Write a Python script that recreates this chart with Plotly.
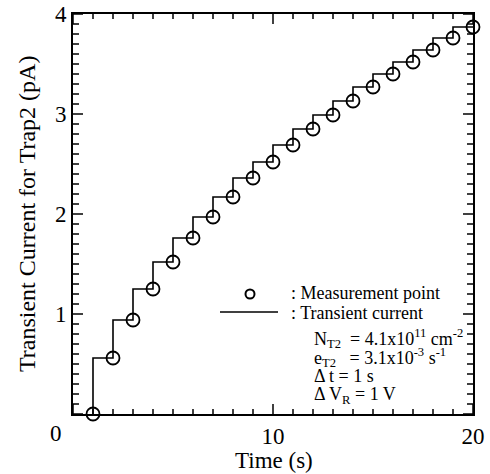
import plotly.graph_objects as go

# Data
time_s = list(range(1, 21))
current_pA = [0.0, 0.56, 0.94, 1.25, 1.52, 1.76, 1.97, 2.17, 2.36, 2.52,
              2.69, 2.85, 2.99, 3.13, 3.27, 3.40, 3.52, 3.64, 3.76, 3.87]

x_tickvals = [0, 10, 20]
x_ticktext = ["", "10", "20"]
y_tickvals = [0, 1, 2, 3, 4]
y_ticktext = ["", "1", "2", "3", "4"]
x_minor_step = 1
y_minor_step = 0.1

FONT = "Liberation Serif"
W, H = 490, 474
L, R, T, B = 73, 17, 14, 60
PW, PH = W - L - R, H - T - B
X_RANGE = [0, 20]
Y_RANGE = [0, 4]

def px(x):
    return (x - L) / PW

def py(y):
    return (H - B - y) / PH

fig = go.Figure()
fig.add_trace(go.Scatter(
    x=time_s, y=current_pA, mode="lines", line_shape="vh",
    line=dict(color="black", width=1.6)))
fig.add_trace(go.Scatter(
    x=time_s, y=current_pA, mode="markers", cliponaxis=False,
    marker=dict(symbol="circle-open", size=13, color="black", line=dict(width=1.8))))

common = dict(showline=True, linecolor="black", linewidth=2, mirror=True,
              ticks="", showgrid=False, zeroline=False, automargin=False,
              tickfont=dict(size=23))
fig.update_xaxes(range=X_RANGE, tickvals=x_tickvals, ticktext=x_ticktext, **common)
fig.update_yaxes(range=Y_RANGE, tickvals=y_tickvals, ticktext=y_ticktext, **common)

# inside tick marks on all four sides (axis decoration)
shapes = []
tick_line = dict(color="black", width=1.5)
n_x = int(round((X_RANGE[1] - X_RANGE[0]) / x_minor_step))
for i in range(n_x + 1):
    xv = X_RANGE[0] + i * x_minor_step
    ln = 10 if xv in x_tickvals else 5
    for base, sgn in ((0, 1), (1, -1)):
        shapes.append(dict(type="line", xref="x", yref="paper", layer="above",
                           x0=xv, x1=xv, y0=base, y1=base + sgn * ln / PH, line=tick_line))
n_y = int(round((Y_RANGE[1] - Y_RANGE[0]) / y_minor_step))
for i in range(n_y + 1):
    yv = round(Y_RANGE[0] + i * y_minor_step, 6)
    ln = 10 if yv in y_tickvals else 6
    for base, sgn in ((0, 1), (1, -1)):
        shapes.append(dict(type="line", xref="paper", yref="y", layer="above",
                           y0=yv, y1=yv, x0=base, x1=base + sgn * ln / PW, line=tick_line))

# legend symbols
shapes.append(dict(type="circle", xref="paper", yref="paper",
                   x0=px(245.5), x1=px(254.5), y0=py(289.5), y1=py(298.5),
                   line=dict(color="black", width=2)))
shapes.append(dict(type="line", xref="paper", yref="paper",
                   x0=px(220), x1=px(278), y0=py(312), y1=py(312),
                   line=dict(color="black", width=1.6)))

ann = []
def add_text(text, x, y, size, xanchor="left", angle=0):
    ann.append(dict(text=text, x=px(x), y=py(y), xref="paper", yref="paper",
                    showarrow=False, xanchor=xanchor, yanchor="middle", textangle=angle,
                    font=dict(size=size)))

add_text("0", 56, 433, 23, xanchor="center")
add_text("Time (s)", 274, 460, 23, xanchor="center")
add_text("Transient Current for Trap2 (pA)", 27, 214, 24, xanchor="center", angle=-90)
add_text(": Measurement point", 289, 293, 18)
add_text(": Transient current", 289, 313, 18)
add_text("N<sub>T2</sub>  = 4.1x10<sup>11</sup> cm<sup>-2</sup>", 312, 338, 18)
add_text("e<sub>T2</sub>   = 3.1x10<sup>-3</sup> s<sup>-1</sup>", 312, 357, 18)
add_text("Δ t = 1 s", 312, 376, 18)
add_text("Δ V<sub>R</sub> = 1 V", 312, 395, 18)

fig.update_layout(
    width=W, height=H, margin=dict(l=L, r=R, t=T, b=B, autoexpand=False),
    paper_bgcolor="white", plot_bgcolor="white",
    font=dict(family=FONT, color="black", size=18),
    annotations=ann, shapes=shapes, showlegend=False,
)
fig.write_html("out.html")
